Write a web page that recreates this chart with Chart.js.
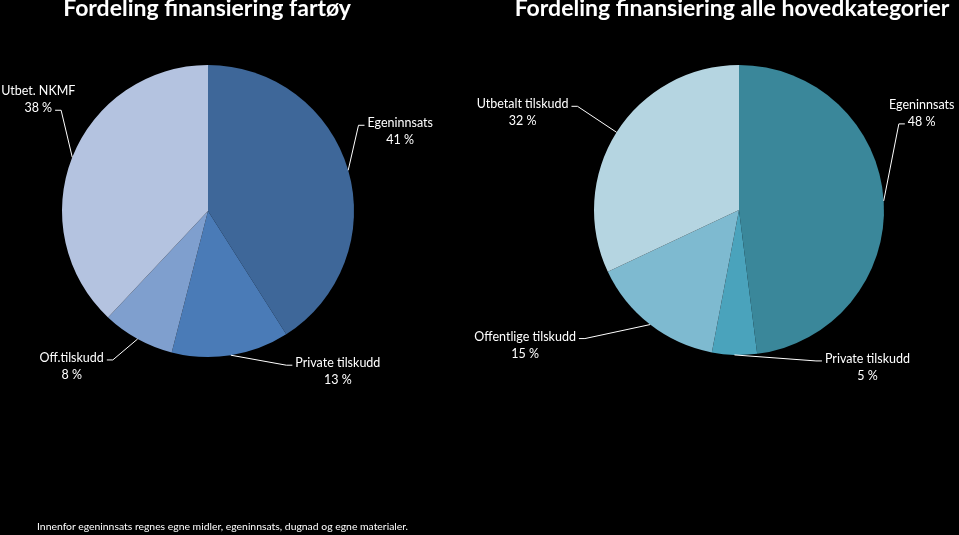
<!DOCTYPE html>
<html>
<head>
<meta charset="utf-8">
<script src="https://cdn.jsdelivr.net/npm/chart.js@4"></script>
<style>
  html, body { margin: 0; padding: 0; background: #000; }
  body { width: 959px; height: 535px; position: relative; overflow: hidden; font-family: Lato, sans-serif; }
  .wrap { position: absolute; top: 0; height: 535px; }
  .title { position: absolute; top: -5px; color: #fff; font-weight: bold; font-size: 23px; line-height: 25px; white-space: nowrap; transform: translateX(-50%); }
  .note { position: absolute; left: 37px; top: 520px; color: #fff; font-size: 10.4px; line-height: 13px; white-space: nowrap; }
</style>
</head>
<body>
<div class="wrap" style="left:0; width:479px"><canvas id="fartoy"></canvas></div>
<div class="wrap" style="left:430px; width:529px"><canvas id="alle"></canvas></div>
<div class="title" style="left:207px">Fordeling finansiering fartøy</div>
<div class="title" style="left:732px">Fordeling finansiering alle hovedkategorier</div>
<div class="note">Innenfor egeninnsats regnes egne midler, egeninnsats, dugnad og egne materialer.</div>
<script>
// data
const fartoyLabels = ['Egeninnsats', 'Private tilskudd', 'Off.tilskudd', 'Utbet. NKMF'];
const fartoyValues = [41, 13, 8, 38];
const fartoyColors = ['#3E6799', '#4A7BB7', '#7F9FCE', '#B4C3E0'];

const alleLabels = ['Egeninnsats', 'Private tilskudd', 'Offentlige tilskudd', 'Utbetalt tilskudd'];
const alleValues = [48, 5, 15, 32];
const alleColors = ['#3A879A', '#4AA3BC', '#7EBAD0', '#B5D5E1'];

// where each label sits relative to its slice edge point: [dx, dy, line the leader points at]
const fartoyLabelPos = [[52, -47, 0], [107, 8, 0], [-66, 19, 0], [-34, -66, 1]];
const alleLabelPos = [[38, -96, 1], [133, 4, 0], [-125, 12, 0], [-94, -28, 0]];

const leaderLabels = {
    id: 'leaderLabels',
    afterDatasetsDraw(chart, args, opts) {
        const ctx = chart.ctx;
        const meta = chart.getDatasetMeta(0);
        const values = chart.data.datasets[0].data;
        ctx.save();
        ctx.font = '12.5px Lato, sans-serif';
        ctx.fillStyle = '#fff';
        ctx.strokeStyle = '#fff';
        ctx.lineWidth = 1;
        ctx.textAlign = 'center';
        ctx.textBaseline = 'middle';
        meta.data.forEach((arc, i) => {
            const p = arc.getProps(['x', 'y', 'startAngle', 'endAngle', 'outerRadius'], true);
            const mid = (p.startAngle + p.endAngle) / 2;
            const ax = p.x + Math.cos(mid) * p.outerRadius;
            const ay = p.y + Math.sin(mid) * p.outerRadius;
            const pos = opts.pos[i];
            const lx = ax + pos[0];
            const ly = ay + pos[1];
            const lines = [chart.data.labels[i], values[i] + ' %'];
            lines.forEach((t, k) => ctx.fillText(t, lx, ly + k * 17));
            const w = ctx.measureText(lines[pos[2]]).width;
            const side = pos[0] > 0 ? -1 : 1;
            const ey = ly + pos[2] * 17 + 2;
            const ex = lx + side * (w / 2 + 3);
            ctx.beginPath();
            ctx.moveTo(ax, ay);
            ctx.lineTo(ex + side * 6, ey);
            ctx.lineTo(ex, ey);
            ctx.stroke();
        });
        ctx.restore();
    }
};

function makePie(id, labels, values, colors, pos, padding) {
    return new Chart(document.getElementById(id).getContext('2d'), {
        type: 'pie',
        data: {
            labels: labels,
            datasets: [{ data: values, backgroundColor: colors, borderWidth: 0 }]
        },
        options: {
            responsive: true,
            maintainAspectRatio: false,
            animation: false,
            layout: { padding: padding },
            plugins: {
                legend: { display: false },
                tooltip: { enabled: false },
                leaderLabels: { pos: pos }
            }
        },
        plugins: [leaderLabels]
    });
}

makePie('fartoy', fartoyLabels, fartoyValues, fartoyColors, fartoyLabelPos, { left: 62, right: 125, top: 65, bottom: 178 });
makePie('alle', alleLabels, alleValues, alleColors, alleLabelPos, { left: 164, right: 75, top: 65, bottom: 180 });
</script>
</body>
</html>
